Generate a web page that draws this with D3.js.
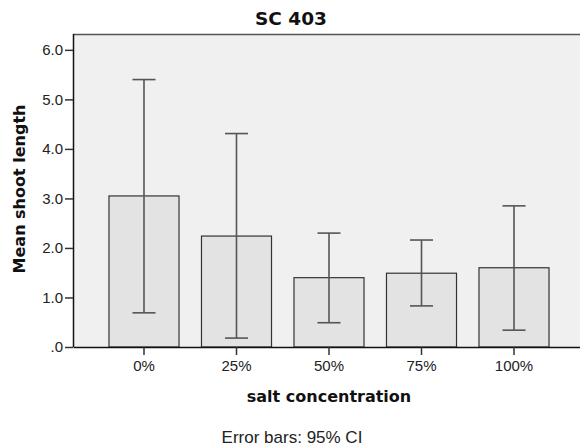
<!DOCTYPE html>
<html>
<head>
<meta charset="utf-8">
<script src="https://cdn.jsdelivr.net/npm/d3@7"></script>
<style>
  body { margin: 0; background: #fff; }
  text { font-family: "Liberation Sans", Arial, sans-serif; fill: #222; }
  .bold { font-family: "DejaVu Sans", sans-serif; font-weight: bold; fill: #111; }
</style>
</head>
<body>
<div class="chart"></div>
<script>
const categories = ["0%", "25%", "50%", "75%", "100%"];
const means = [3.05, 2.24, 1.40, 1.49, 1.60];
const ciLower = [0.69, 0.18, 0.49, 0.83, 0.34];
const ciUpper = [5.40, 4.31, 2.30, 2.16, 2.85];
const yTicks = [0, 1, 2, 3, 4, 5, 6];

const width = 580;
const height = 448;
const plotLeft = 73, plotTop = 34, plotBottom = 347, plotRight = 585;

const svg = d3.select(".chart")
    .append("svg")
    .attr("width", width)
    .attr("height", height);

const x = d3.scaleBand()
    .domain(categories)
    .range([plotLeft, plotRight])
    .paddingInner(0.243)
    .paddingOuter(0.389);

const y = d3.scaleLinear()
    .domain([0, 6.32])
    .range([plotBottom, plotTop]);

// plot background
svg.append("rect")
    .attr("x", plotLeft)
    .attr("y", plotTop)
    .attr("width", plotRight - plotLeft)
    .attr("height", plotBottom - plotTop)
    .attr("fill", "#f0f0f0");

svg.append("line")
    .attr("x1", plotLeft).attr("x2", plotRight)
    .attr("y1", plotTop + 0.5).attr("y2", plotTop + 0.5)
    .attr("stroke", "#555")
    .attr("stroke-width", 1.5);

const data = categories.map((c, i) => ({
    label: c, mean: means[i], lo: ciLower[i], hi: ciUpper[i]
}));

svg.selectAll(".bar")
    .data(data)
    .enter()
    .append("rect")
    .attr("class", "bar")
    .attr("x", d => x(d.label))
    .attr("y", d => y(d.mean))
    .attr("width", x.bandwidth())
    .attr("height", d => y(0) - y(d.mean))
    .attr("fill", "#e3e3e3")
    .attr("stroke", "#333")
    .attr("stroke-width", 1.2);

// error bars
const capHalf = 11.5;
const eb = svg.selectAll(".err")
    .data(data)
    .enter()
    .append("g")
    .attr("class", "err")
    .attr("stroke", "#555")
    .attr("stroke-width", 1.6);

eb.append("line")
    .attr("x1", d => x(d.label) + x.bandwidth() / 2)
    .attr("x2", d => x(d.label) + x.bandwidth() / 2)
    .attr("y1", d => y(d.lo))
    .attr("y2", d => y(d.hi));

eb.append("line")
    .attr("x1", d => x(d.label) + x.bandwidth() / 2 - capHalf)
    .attr("x2", d => x(d.label) + x.bandwidth() / 2 + capHalf)
    .attr("y1", d => y(d.hi))
    .attr("y2", d => y(d.hi));

eb.append("line")
    .attr("x1", d => x(d.label) + x.bandwidth() / 2 - capHalf)
    .attr("x2", d => x(d.label) + x.bandwidth() / 2 + capHalf)
    .attr("y1", d => y(d.lo))
    .attr("y2", d => y(d.lo));

// axes
const yAxis = svg.append("g")
    .attr("class", "y-axis")
    .attr("transform", `translate(${plotLeft},0)`)
    .call(d3.axisLeft(y)
        .tickValues(yTicks)
        .tickSize(8)
        .tickPadding(2)
        .tickFormat(d => d === 0 ? ".0" : d3.format(".1f")(d)));

const xAxis = svg.append("g")
    .attr("class", "x-axis")
    .attr("transform", `translate(0,${plotBottom})`)
    .call(d3.axisBottom(x)
        .tickSize(8)
        .tickPadding(5)
        .tickSizeOuter(0));

yAxis.select(".domain").attr("d", `M0.5,${plotTop}V${plotBottom}`).attr("stroke", "#111").attr("stroke-width", 1.5);
xAxis.select(".domain").attr("stroke", "#111").attr("stroke-width", 1.5);
svg.selectAll(".tick line").attr("stroke", "#333").attr("stroke-width", 1.5);
svg.selectAll(".tick text")
    .style("font-family", "'Liberation Sans', Arial, sans-serif")
    .style("font-size", "15px")
    .attr("fill", "#222");

// titles
svg.append("text")
    .attr("class", "bold")
    .attr("x", 291)
    .attr("y", 25)
    .attr("text-anchor", "middle")
    .style("font-size", "18.5px")
    .text("SC 403");

svg.append("text")
    .attr("class", "bold")
    .attr("transform", `translate(25,189) rotate(-90)`)
    .attr("text-anchor", "middle")
    .style("font-size", "16px")
    .text("Mean shoot length");

svg.append("text")
    .attr("class", "bold")
    .attr("x", 329)
    .attr("y", 402)
    .attr("text-anchor", "middle")
    .style("font-size", "16px")
    .text("salt concentration");

svg.append("text")
    .attr("x", 292)
    .attr("y", 443)
    .attr("text-anchor", "middle")
    .style("font-size", "17px")
    .text("Error bars: 95% CI");
</script>
</body>
</html>
